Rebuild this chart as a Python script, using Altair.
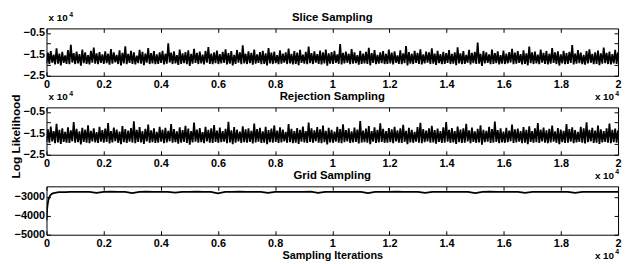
import altair as alt
import numpy as np
import pandas as pd

# ---------------- data (log likelihood in units of 1e4) ----------------
slice_peaks = [
    -1.42,-1.35,-1.51,-1.22,-1.46,-1.38,-1.55,-1.30,-1.05,-1.44,-1.37,-1.49,-1.28,-1.41,-1.53,-1.33,-1.18,-1.45,-1.39,-1.50,
    -1.36,-1.47,-1.25,-1.40,-1.52,-1.31,-1.43,-1.12,-1.48,-1.34,-1.41,-1.56,-1.29,-1.38,-1.46,-1.21,-1.44,-1.35,-1.50,-1.40,
    -1.33,-1.47,-0.98,-1.42,-1.36,-1.53,-1.27,-1.45,-1.39,-1.31,-1.48,-1.24,-1.43,-1.37,-1.51,-1.34,-1.16,-1.46,-1.40,-1.32,
    -1.49,-1.38,-1.26,-1.44,-1.35,-1.52,-1.30,-1.41,-1.08,-1.47,-1.36,-1.43,-1.28,-1.50,-1.39,-1.33,-1.45,-1.20,-1.42,-1.37,
    -1.54,-1.31,-1.46,-1.40,-1.23,-1.48,-1.35,-1.42,-1.29,-1.51,-1.38,-1.14,-1.44,-1.36,-1.49,-1.32,-1.41,-1.27,-1.45,-1.39,
    -1.34,-1.50,-1.02,-1.43,-1.37,-1.47,-1.25,-1.41,-1.53,-1.33,-1.46,-1.38,-1.19,-1.44,-1.30,-1.52,-1.40,-1.35,-1.48,-1.28,
    -1.42,-1.36,-1.55,-1.31,-1.45,-1.11,-1.39,-1.47,-1.34,-1.43,-1.26,-1.50,-1.37,-1.41,-1.22,-1.46,-1.33,-1.49,-1.38,-1.44,
    -1.30,-1.48,-1.40,-1.17,-1.45,-1.35,-1.52,-1.29,-1.43,-1.38,-0.95,-1.47,-1.34,-1.41,-1.50,-1.27,-1.44,-1.36,-1.53,-1.32,
    -1.46,-1.39,-1.24,-1.42,-1.35,-1.49,-1.31,-1.45,-1.13,-1.40,-1.37,-1.51,-1.28,-1.43,-1.34,-1.47,-1.21,-1.41,-1.36,-1.50,
    -1.33,-1.44,-1.38,-1.06,-1.46,-1.30,-1.42,-1.52,-1.35,-1.26,-1.48,-1.40,-1.32,-1.45,-1.18,-1.43,-1.37,-1.49,-1.29,-1.41,
]
slice_troughs = [
    -1.92,-1.95,-1.89,-1.97,-1.93,-2.01,-1.90,-1.94,-1.96,-1.88,-1.95,-1.92,-2.03,-1.91,-1.94,-1.97,-1.89,-1.93,-1.96,-1.90,
    -1.94,-1.91,-1.98,-1.93,-1.87,-1.95,-2.02,-1.92,-1.96,-1.90,-1.94,-1.97,-1.91,-1.93,-2.00,-1.89,-1.95,-1.92,-1.96,-1.94,
    -1.90,-1.97,-1.93,-1.88,-1.95,-1.92,-1.99,-1.94,-1.91,-1.96,-2.04,-1.93,-1.90,-1.95,-1.92,-1.97,-1.89,-1.94,-1.96,-1.91,
    -1.95,-1.92,-1.90,-1.97,-1.93,-2.01,-1.94,-1.89,-1.96,-1.92,-1.95,-1.91,-1.98,-1.93,-1.90,-1.96,-1.94,-2.02,-1.92,-1.95,
    -1.91,-1.96,-1.93,-1.89,-1.95,-1.92,-1.97,-1.94,-2.00,-1.90,-1.93,-1.96,-1.91,-1.95,-1.88,-1.94,-1.97,-1.92,-2.03,-1.93,
    -1.95,-1.90,-1.94,-1.97,-1.92,-1.89,-1.96,-1.93,-1.91,-1.98,-1.94,-1.92,-1.95,-2.01,-1.90,-1.96,-1.93,-1.91,-1.95,-1.94,
    -1.92,-1.97,-1.89,-1.94,-1.96,-1.91,-2.02,-1.93,-1.95,-1.90,-1.94,-1.97,-1.92,-1.88,-1.95,-1.93,-1.99,-1.91,-1.96,-1.94,
    -1.90,-1.95,-1.93,-2.00,-1.92,-1.96,-1.94,-1.89,-1.97,-1.91,-1.95,-1.93,-2.04,-1.92,-1.90,-1.96,-1.94,-1.91,-1.97,-1.93,
    -1.95,-1.92,-1.88,-1.96,-1.93,-1.90,-1.97,-1.94,-2.01,-1.91,-1.95,-1.92,-1.96,-1.89,-1.94,-1.97,-1.93,-1.90,-1.95,-2.02,
    -1.92,-1.96,-1.94,-1.90,-1.97,-1.93,-1.91,-1.95,-1.98,-1.92,-1.89,-1.96,-1.94,-2.00,-1.93,-1.91,-1.95,-1.97,-1.92,-1.94,
]
rejection_peaks = [
    -1.31,-1.18,-1.40,-1.05,-1.34,-1.27,-1.43,-1.22,-1.36,-0.97,-1.29,-1.41,-1.24,-1.33,-1.12,-1.38,-1.26,-1.44,-1.20,-1.35,
    -1.28,-1.02,-1.39,-1.23,-1.32,-1.42,-1.16,-1.30,-1.37,-1.25,-0.94,-1.34,-1.21,-1.40,-1.29,-1.09,-1.36,-1.26,-1.43,-1.19,
    -1.33,-1.24,-1.38,-1.07,-1.30,-1.41,-1.22,-1.35,-1.15,-1.28,-1.39,-1.00,-1.32,-1.25,-1.44,-1.20,-1.34,-1.27,-1.11,-1.37,
    -1.23,-1.40,-1.29,-0.96,-1.36,-1.21,-1.33,-1.42,-1.17,-1.31,-1.26,-1.38,-1.04,-1.30,-1.24,-1.41,-1.19,-1.35,-1.28,-1.13,
    -1.37,-1.22,-1.32,-1.43,-1.06,-1.29,-1.39,-1.25,-1.34,-1.18,-1.40,-0.99,-1.27,-1.36,-1.21,-1.31,-1.14,-1.38,-1.24,-1.33,
    -1.42,-1.20,-1.30,-1.08,-1.35,-1.26,-1.41,-1.23,-1.32,-0.93,-1.37,-1.28,-1.16,-1.39,-1.22,-1.34,-1.03,-1.29,-1.40,-1.25,
    -1.31,-1.19,-1.36,-1.27,-1.10,-1.38,-1.24,-1.33,-1.43,-1.21,-1.01,-1.30,-1.37,-1.26,-1.15,-1.35,-1.28,-1.40,-1.22,-0.97,
    -1.34,-1.25,-1.39,-1.18,-1.32,-1.27,-1.05,-1.36,-1.23,-1.41,-1.29,-1.12,-1.33,-1.38,-1.20,-1.30,-0.95,-1.35,-1.26,-1.42,
    -1.24,-1.37,-1.09,-1.31,-1.28,-1.40,-1.21,-1.34,-1.17,-1.39,-1.26,-1.02,-1.33,-1.23,-1.36,-1.29,-1.14,-1.41,-1.25,-1.32,
    -1.38,-1.07,-1.30,-1.22,-1.35,-1.43,-1.19,-1.27,-0.98,-1.34,-1.24,-1.37,-1.13,-1.31,-1.40,-1.26,-1.04,-1.33,-1.28,-1.36,
]
rejection_troughs = [
    -1.91,-1.94,-1.88,-1.96,-1.92,-1.99,-1.90,-1.93,-1.95,-1.87,-1.94,-1.91,-2.02,-1.90,-1.93,-1.96,-1.88,-1.92,-1.95,-1.89,
    -1.93,-1.90,-1.97,-1.92,-1.86,-1.94,-2.01,-1.91,-1.95,-1.89,-1.93,-1.96,-1.90,-1.92,-1.99,-1.88,-1.94,-1.91,-1.95,-1.93,
    -1.89,-1.96,-1.92,-1.87,-1.94,-1.91,-1.98,-1.93,-1.90,-1.95,-2.03,-1.92,-1.89,-1.94,-1.91,-1.96,-1.88,-1.93,-1.95,-1.90,
    -1.94,-1.91,-1.89,-1.96,-1.92,-2.00,-1.93,-1.88,-1.95,-1.91,-1.94,-1.90,-1.97,-1.92,-1.89,-1.95,-1.93,-2.01,-1.91,-1.94,
    -1.90,-1.95,-1.92,-1.88,-1.94,-1.91,-1.96,-1.93,-1.99,-1.89,-1.92,-1.95,-1.90,-1.94,-1.87,-1.93,-1.96,-1.91,-2.02,-1.92,
    -1.94,-1.89,-1.93,-1.96,-1.91,-1.88,-1.95,-1.92,-1.90,-1.97,-1.93,-1.91,-1.94,-2.00,-1.89,-1.95,-1.92,-1.90,-1.94,-1.93,
    -1.91,-1.96,-1.88,-1.93,-1.95,-1.90,-2.01,-1.92,-1.94,-1.89,-1.93,-1.96,-1.91,-1.87,-1.94,-1.92,-1.98,-1.90,-1.95,-1.93,
    -1.89,-1.94,-1.92,-1.99,-1.91,-1.95,-1.93,-1.88,-1.96,-1.90,-1.94,-1.92,-2.03,-1.91,-1.89,-1.95,-1.93,-1.90,-1.96,-1.92,
    -1.94,-1.91,-1.87,-1.95,-1.92,-1.89,-1.96,-1.93,-2.00,-1.90,-1.94,-1.91,-1.95,-1.88,-1.93,-1.96,-1.92,-1.89,-1.94,-2.01,
    -1.91,-1.95,-1.93,-1.89,-1.96,-1.92,-1.90,-1.94,-1.97,-1.91,-1.88,-1.95,-1.93,-1.99,-1.92,-1.90,-1.94,-1.96,-1.91,-1.93,
]
# grid sampling: iteration positions and raw log likelihood
grid_iter = [0, 10, 25, 45, 70, 100, 130, 160, 200, 250, 300, 380, 460, 560, 680, 820] + list(range(1000, 20001, 250))
grid_ll = [-4250, -3950, -3600, -3350, -3150, -3010, -2930, -2870, -2830, -2800, -2785, -2765, -2755, -2750, -2745, -2740] + [
    -2735, -2732, -2738, -2790, -2735, -2730, -2737, -2734, -2800, -2736, -2731, -2735, -2739, -2733, -2780, -2736,
    -2734, -2730, -2737, -2735, -2810, -2733, -2736, -2731, -2738, -2734, -2735, -2785, -2732, -2737, -2735, -2733,
    -2736, -2730, -2795, -2734, -2738, -2735, -2732, -2736, -2734, -2805, -2737, -2733, -2735, -2731, -2736, -2738,
    -2734, -2790, -2735, -2732, -2737, -2734, -2736, -2733, -2800, -2735, -2731, -2737, -2734, -2736, -2735, -2785,
    -2733, -2736, -2734, -2738, -2735, -2732, -2795, -2736, -2734, -2737, -2733, -2735, -2736,
]

x_ticks = [0, 2000, 4000, 6000, 8000, 10000, 12000, 14000, 16000, 18000, 20000]
y_ticks_e4 = [-2.5, -2, -1.5, -1, -0.5]
y_ticks_grid = [-5000, -4000, -3000]
titles = ["Slice Sampling", "Rejection Sampling", "Grid Sampling"]

# ---------------- layout / style ----------------
FONT = "Liberation Sans"
W = 579
H1, H2, H3 = 48, 48, 49
TICK = 4


def trace_frame(peaks, troughs):
    vals = []
    for lo, hi in zip(troughs, peaks):
        vals.append(lo)
        vals.append(hi)
    return pd.DataFrame({"iter": np.linspace(0, 20000, len(vals)), "ll": vals})


def text_layer(txt, x, y, size, align="left"):
    return alt.Chart(pd.DataFrame({"t": [txt]})).mark_text(
        align=align, baseline="alphabetic", font=FONT, fontSize=size,
        fontWeight="bold", color="black"
    ).encode(x=alt.value(x), y=alt.value(y), text="t:N")


def exponent(x, y, align="left"):
    # "x 10" with a raised "4"
    if align == "left":
        return text_layer("x 10", x, y, 10) + text_layer("4", x + 21, y - 5, 7)
    return text_layer("x 10", x - 5, y, 10, "right") + text_layer("4", x, y - 5, 7, "right")


def panel(df, title, ydom, yticks, ylabel_expr, h, xtitle=None, ytitle=None, y_exp=True):
    xs = alt.Scale(domain=[0, 20000], nice=False, zero=False)
    ys = alt.Scale(domain=ydom, nice=False, zero=False)
    xlab = "datum.value / 10000 + ''"
    base = alt.Chart(df)
    yax_kwargs = dict(values=yticks, labelExpr=ylabel_expr, ticks=False, domain=False, grid=False,
                      labelPadding=2, labelFont=FONT, labelFontSize=11, labelFontWeight="bold",
                      labelColor="black", minExtent=0)
    if ytitle:
        yax_kwargs.update(title=ytitle, titleFont=FONT, titleFontSize=12, titleFontWeight="bold",
                          titleColor="black", titlePadding=1, titleY=29, titleAlign="center",
                          titleBaseline="bottom", titleAngle=270)
    else:
        yax_kwargs.update(title=None)
    xax_kwargs = dict(values=x_ticks, labelExpr=xlab, ticks=False, domain=False, grid=False,
                      labelPadding=3, labelFont=FONT, labelFontSize=11, labelFontWeight="bold",
                      labelColor="black", labelFlush=False)
    if xtitle:
        xax_kwargs.update(title=xtitle, titleFont=FONT, titleFontSize=11, titleFontWeight="bold",
                          titleColor="black", titlePadding=1)
    else:
        xax_kwargs.update(title=None)

    main = base.mark_line(color="black", strokeWidth=1.8, clip=True).encode(
        x=alt.X("iter:Q", scale=xs, axis=alt.Axis(**xax_kwargs)),
        y=alt.Y("ll:Q", scale=ys, axis=alt.Axis(**yax_kwargs)),
    )
    tick_ax = dict(labels=False, domain=False, grid=False, title=None, tickSize=TICK,
                   offset=-TICK, tickColor="black", tickWidth=1, minExtent=0)
    inner_bl = base.mark_line(opacity=0).encode(
        x=alt.X("iter:Q", scale=xs, axis=alt.Axis(orient="bottom", values=x_ticks, **tick_ax)),
        y=alt.Y("ll:Q", scale=ys, axis=alt.Axis(orient="left", values=yticks, **tick_ax)),
    )
    inner_tr = base.mark_line(opacity=0).encode(
        x=alt.X("iter:Q", scale=xs, axis=alt.Axis(orient="top", values=x_ticks, **tick_ax)),
        y=alt.Y("ll:Q", scale=ys, axis=alt.Axis(orient="right", values=yticks, **tick_ax)),
    )
    layers = [main, inner_bl, inner_tr, text_layer(title, W / 2, -7, 11.5, "center")]
    if y_exp:
        layers.append(exponent(2, -7))
    layers.append(exponent(W + 1, h + 25, "right"))
    return alt.layer(*layers).resolve_axis(x="independent", y="independent").properties(
        width=W, height=h,
    )


e4_expr = "replace(datum.value + '', '-', '\u2212')"
grid_expr = "replace(datum.value + '', '-', '\u2212')"

p1 = panel(trace_frame(slice_peaks, slice_troughs), titles[0], [-2.5, -0.285],
           y_ticks_e4, e4_expr, H1)
p2 = panel(trace_frame(rejection_peaks, rejection_troughs), titles[1], [-2.5, -0.285],
           y_ticks_e4, e4_expr, H2, ytitle="Log Likelihood")
p3 = panel(pd.DataFrame({"iter": grid_iter, "ll": grid_ll}), titles[2], [-5000, -2445],
           y_ticks_grid, grid_expr, H3, xtitle="Sampling Iterations", y_exp=False)

chart = alt.vconcat(p1, p2, p3, spacing=32, bounds="flush").properties(
    padding=0, background="white"
).configure_view(stroke="black", strokeWidth=1, fill="white")

chart.save("out.html", embed_options={"renderer": "svg", "actions": False})
